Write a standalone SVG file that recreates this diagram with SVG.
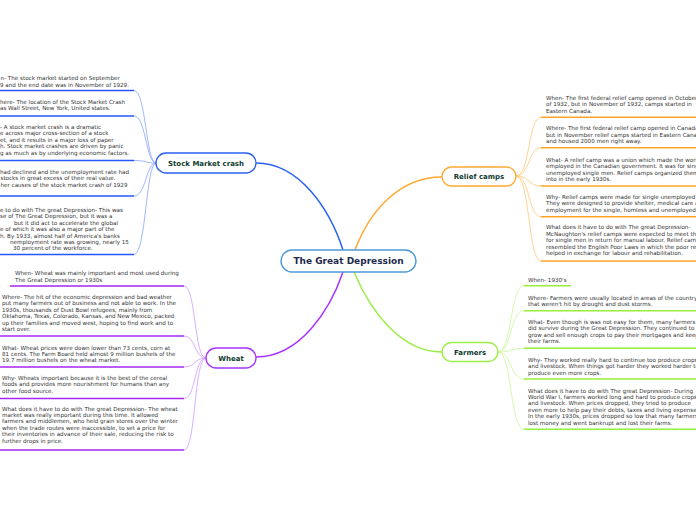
<svg xmlns="http://www.w3.org/2000/svg" width="696" height="520" viewBox="0 0 696 520">
<style>
.leaf{font-family:"DejaVu Sans",Verdana,sans-serif;font-size:5.6px;fill:#333}
.node{font-family:"DejaVu Sans",Verdana,sans-serif;font-weight:bold;font-size:7px;fill:#0f3b30;text-anchor:middle}
.title{font-family:"DejaVu Sans",Verdana,sans-serif;font-weight:bold;font-size:9px;fill:#1b2a4e;text-anchor:middle}
.box{fill:#fff;stroke-width:1.4}
.ub{stroke:#2457ff;stroke-width:1.6;fill:none}
.cb{stroke:#86a4ff;stroke-width:0.8;fill:none}
.uo{stroke:#ffa526;stroke-width:1.6;fill:none}
.co{stroke:#ffc878;stroke-width:0.8;fill:none}
.up{stroke:#a526f5;stroke-width:1.6;fill:none}
.cp{stroke:#d19cff;stroke-width:0.8;fill:none}
.ug{stroke:#98ee38;stroke-width:1.6;fill:none}
.cg{stroke:#c6f59a;stroke-width:0.8;fill:none}
</style>
<rect width="696" height="520" fill="#fff"/>
<g id="connectors">
<path d="M256 163 C300 163 330 210 343 250" stroke="#2b62f5" stroke-width="1.5" fill="none"/>
<path d="M355 250 C370 210 400 177 442 177" stroke="#ffa833" stroke-width="1.5" fill="none"/>
<path d="M343 272 C330 310 300 357 256 357" stroke="#a633ff" stroke-width="1.5" fill="none"/>
<path d="M354 272 C370 310 400 352 442 352" stroke="#9aee44" stroke-width="1.5" fill="none"/>
<path class="cb" d="M156 163 C146 163 146 90.5 134 90.5"/>
<path class="cb" d="M156 163 C146 163 146 116 134 116"/>
<path class="cb" d="M156 163 C146 163 146 160.5 134 160.5"/>
<path class="cb" d="M156 163 C146 163 146 196 134 196"/>
<path class="cb" d="M156 163 C146 163 146 254.5 134 254.5"/>
<path class="co" d="M516 176 C530 176 528 117.3 541 117.3"/>
<path class="co" d="M516 176 C530 176 528 147.7 541 147.7"/>
<path class="co" d="M516 176 C530 176 528 186 541 186"/>
<path class="co" d="M516 176 C530 176 528 216.7 541 216.7"/>
<path class="co" d="M516 176 C530 176 528 261 541 261"/>
<path class="cp" d="M206 358 C194 358 196 286 184 286"/>
<path class="cp" d="M206 358 C194 358 196 336 184 336"/>
<path class="cp" d="M206 358 C194 358 196 367 184 367"/>
<path class="cp" d="M206 358 C194 358 196 398.5 184 398.5"/>
<path class="cp" d="M206 358 C194 358 196 450 184 450"/>
<path class="cg" d="M498 352 C512 352 510 285.7 524 285.7"/>
<path class="cg" d="M498 352 C512 352 510 310.7 524 310.7"/>
<path class="cg" d="M498 352 C512 352 510 348.3 524 348.3"/>
<path class="cg" d="M498 352 C512 352 510 379 524 379"/>
<path class="cg" d="M498 352 C512 352 510 429.3 524 429.3"/>
</g>
<g id="center">
<rect class="box" x="281" y="250" width="135" height="22" rx="11" stroke="#4d9ad8"/>
<text class="title" x="348.5" y="264.2">The Great Depression</text>
</g>
<g id="stock">
<rect class="box" x="156" y="153" width="100" height="20" rx="10" stroke="#2b62f5"/>
<text class="node" x="206" y="165.5">Stock Market crash</text>
</g>
<g id="relief">
<rect class="box" x="442" y="167" width="74" height="19" rx="9.5" stroke="#ffa833"/>
<text class="node" x="479" y="179">Relief camps</text>
</g>
<g id="wheat">
<rect class="box" x="206" y="348" width="50" height="20" rx="10" stroke="#a633ff"/>
<text class="node" x="231" y="360.5">Wheat</text>
</g>
<g id="farmers">
<rect class="box" x="442" y="342.5" width="56" height="19" rx="9.5" stroke="#9aee44"/>
<text class="node" x="470" y="354.5">Farmers</text>
</g>
<g id="stock-when">
<text class="leaf" x="0.5" y="80">n- The stock market started on September</text>
<text class="leaf" x="0" y="86.5">9 and the end date was in November of 1929.</text>
<line class="ub" x1="0" y1="90.5" x2="134" y2="90.5"/>
</g>
<g id="stock-where">
<text class="leaf" x="0" y="103.5">here- The location of the Stock Market Crash</text>
<text class="leaf" x="0" y="110">as Wall Street, New York, United states.</text>
<line class="ub" x1="0" y1="116" x2="134" y2="116"/>
</g>
<g id="stock-what">
<text class="leaf" x="0" y="128.5">- A stock market crash is a dramatic</text>
<text class="leaf" x="0" y="135">e across major cross-section of a stock</text>
<text class="leaf" x="0" y="141.5">et, and it results in a major loss of paper</text>
<text class="leaf" x="0" y="148">h. Stock market crashes are driven by panic</text>
<text class="leaf" x="0" y="154.5">g as much as by underlying economic factors.</text>
<line class="ub" x1="0" y1="160.5" x2="134" y2="160.5"/>
</g>
<g id="stock-why">
<text class="leaf" x="0" y="173.5">had declined and the unemployment rate had</text>
<text class="leaf" x="0.5" y="180">stocks in great excess of their real value.</text>
<text class="leaf" x="0.5" y="186.5">her causes of the stock market crash of 1929</text>
<line class="ub" x1="0" y1="196" x2="134" y2="196"/>
</g>
<g id="stock-depression">
<text class="leaf" x="0" y="212">e to do with The great Depression- This was</text>
<text class="leaf" x="0" y="218.4">se of The Great Depression, but it was a</text>
<text class="leaf" x="14" y="224.8">but it did act to accelerate the global</text>
<text class="leaf" x="0" y="231.2">e of which it was also a major part of the</text>
<text class="leaf" x="0" y="237.6">h. By 1933, almost half of America's banks</text>
<text class="leaf" x="10" y="244">nemployment rate was growing, nearly 15</text>
<text class="leaf" x="13" y="250.4">30 percent of the workforce.</text>
<line class="ub" x1="0" y1="254.5" x2="134" y2="254.5"/>
</g>
<g id="relief-when">
<text class="leaf" x="546" y="100">When- The first federal relief camp opened in October</text>
<text class="leaf" x="546" y="106.4">of 1932, but in November of 1932, camps started in</text>
<text class="leaf" x="546" y="112.8">Eastern Canada.</text>
<line class="uo" x1="541" y1="117.3" x2="696" y2="117.3"/>
</g>
<g id="relief-where">
<text class="leaf" x="546" y="130">Where- The first federal relief camp opened in Canada</text>
<text class="leaf" x="546" y="136.5">but in November relief camps started in Eastern Canad</text>
<text class="leaf" x="546" y="143">and housed 2000 men right away.</text>
<line class="uo" x1="541" y1="147.7" x2="696" y2="147.7"/>
</g>
<g id="relief-what">
<text class="leaf" x="546" y="161.8">What- A relief camp was a union which made the work</text>
<text class="leaf" x="546" y="168.2">employed in the Canadian government. It was for sing</text>
<text class="leaf" x="546" y="174.6">unemployed single men. Relief camps organized them</text>
<text class="leaf" x="546" y="181">into in the early 1930s.</text>
<line class="uo" x1="541" y1="186" x2="696" y2="186"/>
</g>
<g id="relief-why">
<text class="leaf" x="546" y="199">Why- Relief camps were made for single unemployed m</text>
<text class="leaf" x="546" y="205.4">They were designed to provide shelter, medical care a</text>
<text class="leaf" x="546" y="211.8">employment for the single, homless and unemployed m</text>
<line class="uo" x1="541" y1="216.7" x2="696" y2="216.7"/>
</g>
<g id="relief-depression">
<text class="leaf" x="546" y="229">What does it have to do with The great Depression-</text>
<text class="leaf" x="546" y="235.5">McNaughton's relief camps were expected to meet the</text>
<text class="leaf" x="546" y="242">for single men in return for manual labour. Relief camp</text>
<text class="leaf" x="546" y="248.5">resembled the English Poor Laws in which the poor rec</text>
<text class="leaf" x="546" y="255">helped in exchange for labour and rehabilitation.</text>
<line class="uo" x1="541" y1="261" x2="696" y2="261"/>
</g>
<g id="wheat-when">
<text class="leaf" x="15" y="275">When- Wheat was mainly important and most used during</text>
<text class="leaf" x="15" y="281.5">The Great Depression or 1930s</text>
<line class="up" x1="10" y1="286" x2="184" y2="286"/>
</g>
<g id="wheat-where">
<text class="leaf" x="2" y="299">Where- The hit of the economic depression and bad weather</text>
<text class="leaf" x="2" y="305.4">put many farmers out of business and not able to work. In the</text>
<text class="leaf" x="2" y="311.8">1930s, thousands of Dust Bowl refugees, mainly from</text>
<text class="leaf" x="2" y="318.2">Oklahoma, Texas, Colorado, Kansas, and New Mexico, packed</text>
<text class="leaf" x="2" y="324.6">up their families and moved west, hoping to find work and to</text>
<text class="leaf" x="2" y="331">start over.</text>
<line class="up" x1="0" y1="336" x2="184" y2="336"/>
</g>
<g id="wheat-what">
<text class="leaf" x="2" y="349.5">What- Wheat prices were down lower than 73 cents, corn at</text>
<text class="leaf" x="2" y="355.9">81 cents. The Farm Board held almost 9 million bushels of the</text>
<text class="leaf" x="2" y="362.3">19.7 million bushels on the wheat market.</text>
<line class="up" x1="0" y1="367" x2="184" y2="367"/>
</g>
<g id="wheat-why">
<text class="leaf" x="2" y="380">Why- Wheats important because it is the best of the cereal</text>
<text class="leaf" x="2" y="386.4">foods and provides more nourishment for humans than any</text>
<text class="leaf" x="2" y="392.8">other food source.</text>
<line class="up" x1="0" y1="398.5" x2="184" y2="398.5"/>
</g>
<g id="wheat-depression">
<text class="leaf" x="2" y="410.5">What does it have to do with The great Depression- The wheat</text>
<text class="leaf" x="2" y="416.9">market was really important during this time. It allowed</text>
<text class="leaf" x="2" y="423.3">farmers and middlemen, who held grain stores over the winter</text>
<text class="leaf" x="2" y="429.7">when the trade routes were inaccessible, to set a price for</text>
<text class="leaf" x="2" y="436.1">their inventories in advance of their sale, reducing the risk to</text>
<text class="leaf" x="2" y="442.5">further drops in price.</text>
<line class="up" x1="0" y1="450" x2="184" y2="450"/>
</g>
<g id="farmers-when">
<text class="leaf" x="528" y="281.8">When- 1930's</text>
<line class="ug" x1="524" y1="285.7" x2="571" y2="285.7"/>
</g>
<g id="farmers-where">
<text class="leaf" x="528" y="300">Where- Farmers were usually located in areas of the country</text>
<text class="leaf" x="528" y="306.4">that weren't hit by drought and dust storms.</text>
<line class="ug" x1="524" y1="310.7" x2="696" y2="310.7"/>
</g>
<g id="farmers-what">
<text class="leaf" x="528" y="324">What- Even though is was not easy for them, many farmers</text>
<text class="leaf" x="528" y="330.4">did survive during the Great Depression. They continued to</text>
<text class="leaf" x="528" y="336.8">grow and sell enough crops to pay their mortgages and keep</text>
<text class="leaf" x="528" y="343.2">their farms.</text>
<line class="ug" x1="524" y1="348.3" x2="696" y2="348.3"/>
</g>
<g id="farmers-why">
<text class="leaf" x="528" y="361.8">Why- They worked really hard to continue too produce crops</text>
<text class="leaf" x="528" y="368.2">and livestock. When things got harder they worked harder to</text>
<text class="leaf" x="528" y="374.6">produce even more crops.</text>
<line class="ug" x1="524" y1="379" x2="696" y2="379"/>
</g>
<g id="farmers-depression">
<text class="leaf" x="528" y="392.5">What does it have to do with The great Depression- During</text>
<text class="leaf" x="528" y="398.9">World War I, farmers worked long and hard to produce crops</text>
<text class="leaf" x="528" y="405.3">and livestock. When prices dropped, they tried to produce</text>
<text class="leaf" x="528" y="411.7">even more to help pay their debts, taxes and living expenses</text>
<text class="leaf" x="528" y="418.1">In the early 1930s, prices dropped so low that many farmers</text>
<text class="leaf" x="528" y="424.5">lost money and went bankrupt and lost their farms.</text>
<line class="ug" x1="524" y1="429.3" x2="696" y2="429.3"/>
</g>
</svg>
